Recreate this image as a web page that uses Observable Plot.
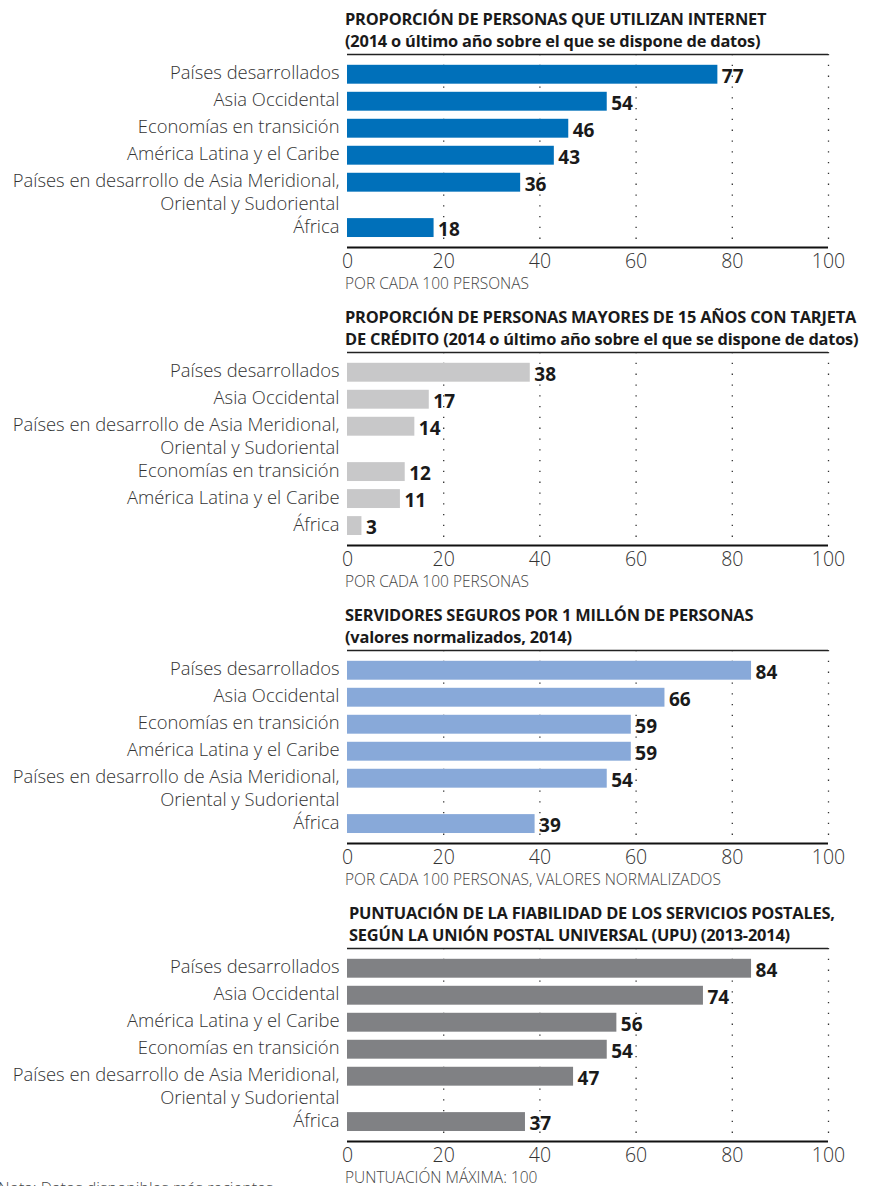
<!DOCTYPE html>
<html>
<head>
<meta charset="utf-8">
<script src="https://cdn.jsdelivr.net/npm/d3@7"></script>
<script src="https://cdn.jsdelivr.net/npm/@observablehq/plot@0.6"></script>
<style>
  html, body { margin: 0; padding: 0; background: #fff; }
  body { width: 872px; height: 1186px; overflow: hidden; position: relative; font-family: "Open Sans", sans-serif; }
  .panel { position: relative; height: 298px; }
  .title { height: 50px; box-sizing: border-box; padding-top: 8px; padding-left: 345px; font-size: 16.4px; font-weight: 700; line-height: 22px; color: #1a1a1a; white-space: nowrap; letter-spacing: -0.2px; }
  .sub { padding-left: 345px; font-size: 15.5px; line-height: 19px; color: #444; font-weight: 300; white-space: nowrap; }
  svg { display: block; }
  .note { position: absolute; left: -2px; top: 1177px; font-size: 16px; font-weight: 300; color: #444; white-space: nowrap; }
</style>
</head>
<body>
<div id="root"></div>
<div class="note">Nota: Datos disponibles más recientes.</div>
<script>
// ---- DATA ----
const panel1Title = ["PROPORCIÓN DE PERSONAS QUE UTILIZAN INTERNET", "(2014 o último año sobre el que se dispone de datos)"];
const panel1Labels = ["Países desarrollados", "Asia Occidental", "Economías en transición", "América Latina y el Caribe", "Países en desarrollo de Asia Meridional,\nOriental y Sudoriental", "África"];
const panel1Values = [77, 54, 46, 43, 36, 18];
const panel1Sub = "POR CADA 100 PERSONAS";

const panel2Title = ["PROPORCIÓN DE PERSONAS MAYORES DE 15 AÑOS CON TARJETA", "DE CRÉDITO (2014 o último año sobre el que se dispone de datos)"];
const panel2Labels = ["Países desarrollados", "Asia Occidental", "Países en desarrollo de Asia Meridional,\nOriental y Sudoriental", "Economías en transición", "América Latina y el Caribe", "África"];
const panel2Values = [38, 17, 14, 12, 11, 3];
const panel2Sub = "POR CADA 100 PERSONAS";

const panel3Title = ["SERVIDORES SEGUROS POR 1 MILLÓN DE PERSONAS", "(valores normalizados, 2014)"];
const panel3Labels = ["Países desarrollados", "Asia Occidental", "Economías en transición", "América Latina y el Caribe", "Países en desarrollo de Asia Meridional,\nOriental y Sudoriental", "África"];
const panel3Values = [84, 66, 59, 59, 54, 39];
const panel3Sub = "POR CADA 100 PERSONAS, VALORES NORMALIZADOS";

const panel4Title = ["PUNTUACIÓN DE LA FIABILIDAD DE LOS SERVICIOS POSTALES,", "SEGÚN LA UNIÓN POSTAL UNIVERSAL (UPU) (2013-2014)"];
const panel4Labels = ["Países desarrollados", "Asia Occidental", "América Latina y el Caribe", "Economías en transición", "Países en desarrollo de Asia Meridional,\nOriental y Sudoriental", "África"];
const panel4Values = [84, 74, 56, 54, 47, 37];
const panel4Sub = "PUNTUACIÓN MÁXIMA: 100";

const xTicks = [0, 20, 40, 60, 80, 100];

const panels = [
  {title: panel1Title, labels: panel1Labels, values: panel1Values, sub: panel1Sub, color: "#0070ba"},
  {title: panel2Title, labels: panel2Labels, values: panel2Values, sub: panel2Sub, color: "#c8c8c9"},
  {title: panel3Title, labels: panel3Labels, values: panel3Values, sub: panel3Sub, color: "#88a9d9"},
  {title: panel4Title, labels: panel4Labels, values: panel4Values, sub: panel4Sub, color: "#808184"}
];

const root = document.getElementById("root");
const yDomain = [-0.75, 6.4];

panels.forEach((p, pi) => {
  // row positions: extra space after multi-line labels
  let extra = 0;
  const data = p.labels.map((label, i) => {
    const d = {label, value: p.values[i], pos: i + extra * 0.68};
    extra += label.split("\n").length - 1;
    return d;
  });

  const div = document.createElement("div");
  div.className = "panel";
  const t = document.createElement("div");
  t.className = "title";
  if (pi === 3) t.style.paddingLeft = "349px";
  t.innerHTML = p.title.join("<br>");
  div.appendChild(t);

  const chart = Plot.plot({
    width: 872,
    height: 224,
    marginLeft: 347,
    marginRight: 44,
    marginTop: 4,
    marginBottom: 27,
    style: {fontFamily: "Open Sans, sans-serif", background: "transparent", overflow: "visible"},
    x: {domain: [0, 100]},
    y: {domain: yDomain, range: [4, 197], axis: null},
    marks: [
      Plot.gridX(xTicks.filter(v => v > 0), {stroke: "#333", strokeOpacity: 1, strokeWidth: 1.3, strokeDasharray: "1.3,9.5"}),
      Plot.rectX(data, {x1: 0, x2: "value", y1: d => d.pos - 0.35, y2: d => d.pos + 0.35, fill: p.color}),
      Plot.ruleY([yDomain[0]], {stroke: "#222", strokeWidth: 1.6}),
      Plot.ruleY([yDomain[1]], {stroke: "#111", strokeWidth: 2}),
      Plot.text(data, {x: 0, y: "pos", text: "label", textAnchor: "end", lineAnchor: "top", dx: -8, dy: -12, lineHeight: 1.26, fontSize: 18.4, fontWeight: 300, fill: "#333"}),
      Plot.text(data, {x: "value", y: "pos", text: d => String(d.value), textAnchor: "start", dx: 4, dy: 2, fontSize: 19, fontWeight: 700, fill: "#1a1a1a"}),
      Plot.axisX({ticks: xTicks, tickSize: 0, tickPadding: 7, fontSize: 19.5, fontWeight: 300, label: null, fill: "#333"})
    ]
  });
  div.appendChild(chart);

  const s = document.createElement("div");
  s.className = "sub";
  s.textContent = p.sub;
  div.appendChild(s);
  root.appendChild(div);
});
</script>
</body>
</html>
